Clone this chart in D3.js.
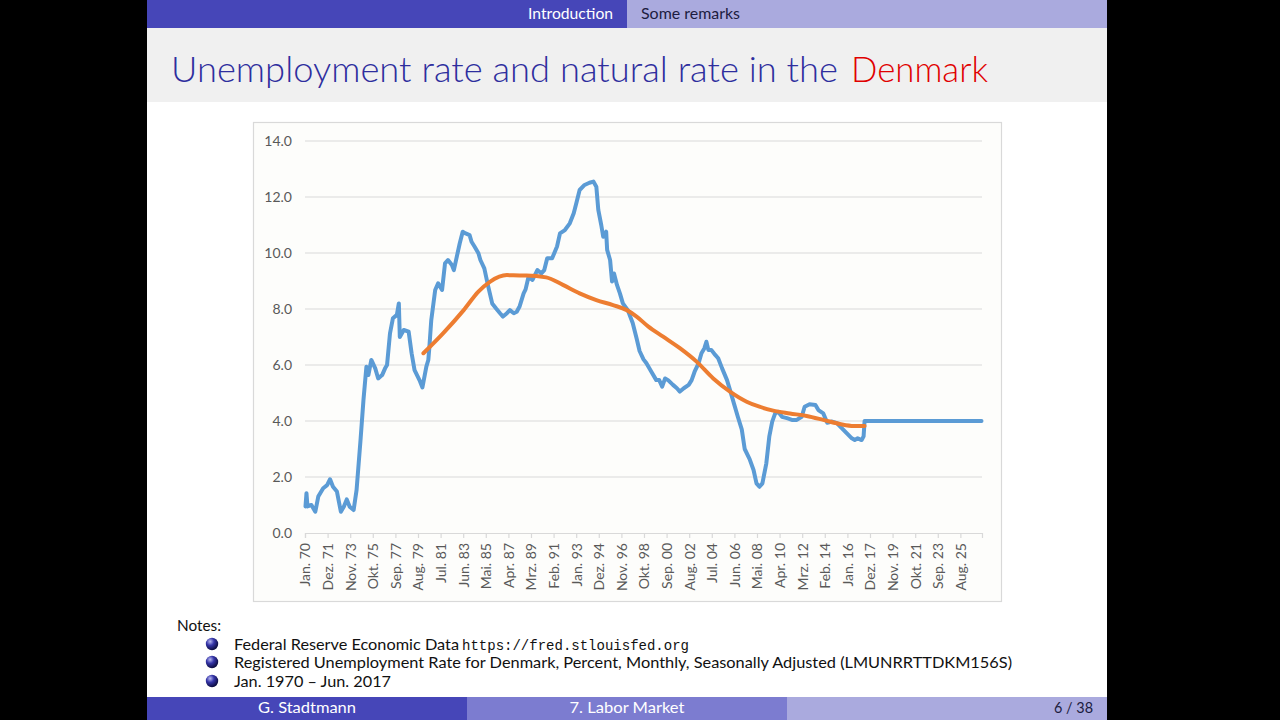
<!DOCTYPE html>
<html lang="en">
<head>
    <meta charset="UTF-8">
    <title>Unemployment rate and natural rate in the Denmark</title>
    <script src="https://cdn.jsdelivr.net/npm/d3@7"></script>
    <style>
        body { margin: 0; background: #000; }
        svg { display: block; }
    </style>
</head>
<body>
    <div id="slide"></div>
    <script>
        // Registered unemployment rate, Denmark, then flat 4.0 to the end of the sheet
        const unemploymentDates = [
            "1970-01","1970-02","1970-03","1970-07","1970-11","1971-02","1971-07","1971-11","1972-02","1972-05",
            "1972-09","1973-01","1973-04","1973-07","1973-10","1974-02","1974-05","1974-09","1974-12","1975-03",
            "1975-05","1975-08","1975-12","1976-03","1976-07","1976-10","1976-12","1977-03","1977-06","1977-10",
            "1977-12","1978-01","1978-05","1978-10","1979-01","1979-04","1979-09","1979-12","1980-04","1980-06",
            "1980-07","1980-09","1981-01","1981-04","1981-08","1981-11","1982-02","1982-06","1982-08","1982-11",
            "1983-02","1983-05","1983-08","1983-12","1984-02","1984-05","1984-09","1984-11","1985-03","1985-07",
            "1985-11","1986-03","1986-07","1986-10","1987-02","1987-05","1987-09","1987-12","1988-03","1988-07",
            "1988-09","1988-12","1989-04","1989-09","1990-01","1990-04","1990-07","1990-12","1991-05","1991-08",
            "1992-01","1992-06","1992-10","1993-01","1993-04","1993-09","1994-02","1994-06","1994-09","1994-11",
            "1995-02","1995-04","1995-07","1995-08","1995-11","1996-01","1996-03","1996-06","1996-09","1996-12",
            "1997-05","1997-10","1998-02","1998-05","1998-09","1998-12","1999-05","1999-10","2000-01","2000-04",
            "2000-07","2000-10","2001-03","2001-07","2001-10","2002-02","2002-07","2002-10","2003-01","2003-05",
            "2003-08","2003-11","2004-01","2004-03","2004-06","2004-10","2005-01","2005-05","2005-10","2006-01",
            "2006-05","2006-09","2007-01","2007-04","2007-09","2008-01","2008-04","2008-07","2008-10","2009-02",
            "2009-05","2009-08","2009-11","2010-02","2010-06","2010-11","2011-04","2011-09","2012-02","2012-05",
            "2012-10","2013-04","2013-07","2013-12","2014-04","2014-09","2015-02","2015-07","2015-12","2016-05",
            "2016-08","2016-11","2017-03","2017-05","2017-06","2027-05"
        ];
        const unemploymentValues = [
            0.95, 1.42, 0.95, 1.00, 0.76, 1.30, 1.60, 1.71, 1.92, 1.65,
            1.48, 0.76, 0.94, 1.20, 0.94, 0.82, 1.54, 3.32, 4.75, 5.94,
            5.64, 6.18, 5.88, 5.52, 5.64, 5.88, 6.00, 7.13, 7.67, 7.79,
            8.20, 7.00, 7.25, 7.19, 6.42, 5.82, 5.46, 5.20, 5.94, 6.18,
            6.60, 7.60, 8.68, 8.92, 8.68, 9.63, 9.75, 9.57, 9.39, 9.87,
            10.35, 10.76, 10.70, 10.64, 10.40, 10.23, 9.99, 9.75, 9.45, 8.80,
            8.20, 8.02, 7.85, 7.73, 7.85, 7.96, 7.85, 7.90, 8.10, 8.56,
            8.70, 9.15, 9.04, 9.39, 9.27, 9.39, 9.81, 9.81, 10.23, 10.70,
            10.82, 11.06, 11.42, 11.83, 12.25, 12.43, 12.51, 12.55, 12.37, 11.54,
            11.00, 10.58, 10.76, 10.11, 9.75, 8.98, 9.27, 8.86, 8.56, 8.20,
            7.96, 7.50, 6.95, 6.50, 6.20, 6.06, 5.76, 5.46, 5.46, 5.23,
            5.52, 5.46, 5.29, 5.17, 5.05, 5.17, 5.29, 5.46, 5.76, 6.06,
            6.42, 6.60, 6.83, 6.54, 6.54, 6.36, 6.24, 5.88, 5.46, 5.11,
            4.63, 4.15, 3.70, 3.00, 2.64, 2.25, 1.77, 1.65, 1.77, 2.49,
            3.44, 3.98, 4.27, 4.33, 4.15, 4.10, 4.04, 4.04, 4.15, 4.51,
            4.60, 4.57, 4.39, 4.27, 3.94, 3.98, 3.92, 3.74, 3.56, 3.38,
            3.32, 3.38, 3.32, 3.45, 4.00, 4.00
        ];

        // Natural rate (smooth trend)
        const trendDates = [
            "1980-01","1981-09","1983-06","1984-09","1985-09","1987-02","1988-03","1988-10","1990-06","1991-11",
            "1993-04","1994-09","1996-02","1997-04","1998-02","1999-02","2000-05","2001-10","2003-03","2004-08",
            "2006-01","2007-06","2008-07","2009-09","2011-02","2012-07","2013-12","2015-05","2016-07","2017-06"
        ];
        const trendValues = [
            6.42, 7.13, 7.96, 8.62, 8.98, 9.21, 9.20, 9.20, 9.13, 8.86,
            8.56, 8.32, 8.14, 7.96, 7.73, 7.37, 7.01, 6.60, 6.12, 5.52,
            5.05, 4.69, 4.51, 4.37, 4.27, 4.18, 4.04, 3.89, 3.82, 3.82
        ];

        const xTickLabels = [
            "Jan. 70","Dez. 71","Nov. 73","Okt. 75","Sep. 77","Aug. 79","Jul. 81","Jun. 83","Mai. 85","Apr. 87",
            "Mrz. 89","Feb. 91","Jan. 93","Dez. 94","Nov. 96","Okt. 98","Sep. 00","Aug. 02","Jul. 04","Jun. 06",
            "Mai. 08","Apr. 10","Mrz. 12","Feb. 14","Jan. 16","Dez. 17","Nov. 19","Okt. 21","Sep. 23","Aug. 25"
        ];
        const yTicks = [0, 2, 4, 6, 8, 10, 12, 14];
        const labelEvery = 23;      // months between category labels
        const monthCount = 689;     // Jan 1970 .. May 2027 rows in the sheet

        const notes = [
            ["Federal Reserve Economic Data ", "https://fred.stlouisfed.org"],
            ["Registered Unemployment Rate for Denmark, Percent, Monthly, Seasonally Adjusted (LMUNRRTTDKM156S)", ""],
            ["Jan. 1970 \u2013 Jun. 2017", ""]
        ];

        const beamerFont = "Lato, 'Open Sans', sans-serif";
        const excelFont = "Lato, 'Open Sans', sans-serif";

        const svg = d3.select("#slide").append("svg")
            .attr("width", 1280).attr("height", 720);

        // slide background
        svg.append("rect").attr("x", 0).attr("y", 0).attr("width", 1280).attr("height", 720).attr("fill", "#000");
        svg.append("rect").attr("x", 147).attr("y", 0).attr("width", 960).attr("height", 720).attr("fill", "#ffffff");

        // header bar
        svg.append("rect").attr("x", 147).attr("y", 0).attr("width", 480).attr("height", 28).attr("fill", "#4646b8");
        svg.append("rect").attr("x", 627).attr("y", 0).attr("width", 480).attr("height", 28).attr("fill", "#aaaade");
        svg.append("text").attr("x", 613).attr("y", 19).attr("text-anchor", "end")
            .attr("font-family", beamerFont).attr("font-size", 15).attr("fill", "#fff")
            .attr("textLength", 85).attr("lengthAdjust", "spacingAndGlyphs").text("Introduction");
        svg.append("text").attr("x", 641).attr("y", 19)
            .attr("font-family", beamerFont).attr("font-size", 15).attr("fill", "#1c1c40")
            .attr("textLength", 99).attr("lengthAdjust", "spacingAndGlyphs").text("Some remarks");

        // title band
        svg.append("rect").attr("x", 147).attr("y", 28).attr("width", 960).attr("height", 74).attr("fill", "#f0f0f0");
        svg.append("text").attr("x", 171).attr("y", 82)
            .attr("font-family", beamerFont).attr("font-size", 36).attr("font-weight", 300).attr("fill", "#2e2e9e")
            .attr("textLength", 667).attr("lengthAdjust", "spacingAndGlyphs")
            .text("Unemployment rate and natural rate in the");
        svg.append("text").attr("x", 851).attr("y", 82)
            .attr("font-family", beamerFont).attr("font-size", 36).attr("font-weight", 300).attr("fill", "#e00000")
            .attr("textLength", 137).attr("lengthAdjust", "spacingAndGlyphs")
            .text("Denmark");

        // chart frame
        svg.append("rect").attr("x", 253.5).attr("y", 122.5).attr("width", 748).attr("height", 479)
            .attr("fill", "#fdfdfb").attr("stroke", "#d9d9d9").attr("stroke-width", 1.2);

        const x = d3.scaleLinear().domain([0, monthCount]).range([305, 982]);
        const y = d3.scaleLinear().domain([0, 14]).range([533, 141]);
        const monthIndex = s => (+s.slice(0, 4) - 1970) * 12 + (+s.slice(5, 7) - 1);

        const chart = svg.append("g");

        // gridlines + y labels
        chart.selectAll("line.grid").data(yTicks.filter(t => t > 0)).enter().append("line")
            .attr("class", "grid")
            .attr("x1", x(0)).attr("x2", x(monthCount))
            .attr("y1", d => y(d)).attr("y2", d => y(d))
            .attr("stroke", "#d9d9d9").attr("stroke-width", 1.2);

        chart.selectAll("text.ylab").data(yTicks).enter().append("text")
            .attr("class", "ylab")
            .attr("x", 292).attr("y", d => y(d) + 5)
            .attr("text-anchor", "end")
            .attr("font-family", excelFont).attr("font-size", 14).attr("fill", "#595959")
            .text(d => d.toFixed(1));

        // x axis
        const xAxis = d3.axisBottom(x)
            .tickValues(xTickLabels.map((d, i) => i * labelEvery))
            .tickSize(5)
            .tickFormat("");
        const gx = chart.append("g").attr("transform", `translate(0,${y(0)})`).call(xAxis);
        gx.select(".domain").attr("stroke", "#d9d9d9").attr("stroke-width", 1.2);
        gx.selectAll(".tick line").attr("stroke", "#d9d9d9").attr("stroke-width", 1.2);

        chart.selectAll("text.xlab").data(xTickLabels).enter().append("text")
            .attr("class", "xlab")
            .attr("transform", (d, i) => `translate(${x(i * labelEvery + 0.5) + 5},${y(0) + 10}) rotate(-90)`)
            .attr("text-anchor", "end")
            .attr("font-family", excelFont).attr("font-size", 14).attr("fill", "#595959")
            .text(d => d);

        // series
        const unemployment = unemploymentDates.map((d, i) => ({ m: monthIndex(d), v: unemploymentValues[i] }));
        const trend = trendDates.map((d, i) => ({ m: monthIndex(d), v: trendValues[i] }));

        const line = d3.line().x(d => x(d.m + 0.5)).y(d => y(d.v));

        chart.append("path").datum(unemployment)
            .attr("d", line)
            .attr("fill", "none").attr("stroke", "#5b9bd5").attr("stroke-width", 4)
            .attr("stroke-linejoin", "round").attr("stroke-linecap", "round");

        chart.append("path").datum(trend)
            .attr("d", line.curve(d3.curveMonotoneX))
            .attr("fill", "none").attr("stroke", "#ed7d31").attr("stroke-width", 4)
            .attr("stroke-linecap", "round");

        // notes
        svg.append("text").attr("x", 177).attr("y", 631)
            .attr("font-family", beamerFont).attr("font-size", 15).attr("fill", "#111")
            .attr("textLength", 44).attr("lengthAdjust", "spacingAndGlyphs").text("Notes:");

        const defs = svg.append("defs");
        const grad = defs.append("radialGradient").attr("id", "ball")
            .attr("cx", "35%").attr("cy", "30%").attr("r", "70%");
        grad.append("stop").attr("offset", "0%").attr("stop-color", "#b8b8f0");
        grad.append("stop").attr("offset", "45%").attr("stop-color", "#3535a8");
        grad.append("stop").attr("offset", "100%").attr("stop-color", "#0c0c40");

        const noteY = [650, 668, 687];
        const noteWidths = [[225, 227], [778, 0], [157, 0]];
        notes.forEach((n, i) => {
            svg.append("circle").attr("cx", 212).attr("cy", noteY[i] - 6).attr("r", 6.2).attr("fill", "url(#ball)");
            svg.append("text").attr("x", 234).attr("y", noteY[i])
                .attr("font-family", beamerFont).attr("font-size", 15).attr("fill", "#111")
                .attr("textLength", noteWidths[i][0]).attr("lengthAdjust", "spacingAndGlyphs")
                .text(n[0].trim());
            if (n[1]) {
                svg.append("text").attr("x", 462).attr("y", noteY[i])
                    .attr("font-family", "'Liberation Mono', 'DejaVu Sans Mono', monospace")
                    .attr("font-size", 14).attr("fill", "#111")
                    .attr("textLength", noteWidths[i][1]).attr("lengthAdjust", "spacingAndGlyphs")
                    .text(n[1]);
            }
        });

        // footer
        const footer = [
            { x0: 147, w: 320, fill: "#4646b8", text: "G. Stadtmann", color: "#fff", tw: 98 },
            { x0: 467, w: 320, fill: "#7c7cd0", text: "7. Labor Market", color: "#fff", tw: 115 },
            { x0: 787, w: 320, fill: "#aaaade", text: "", color: "#1c1c40", tw: 0 }
        ];
        footer.forEach(f => {
            svg.append("rect").attr("x", f.x0).attr("y", 697).attr("width", f.w).attr("height", 23).attr("fill", f.fill);
            if (f.text) {
                svg.append("text").attr("x", f.x0 + f.w / 2).attr("y", 713).attr("text-anchor", "middle")
                    .attr("font-family", beamerFont).attr("font-size", 15).attr("fill", f.color)
                    .attr("textLength", f.tw).attr("lengthAdjust", "spacingAndGlyphs").text(f.text);
            }
        });
        svg.append("text").attr("x", 1093).attr("y", 713).attr("text-anchor", "end")
            .attr("font-family", beamerFont).attr("font-size", 15).attr("fill", "#1c1c40")
            .attr("textLength", 39).attr("lengthAdjust", "spacingAndGlyphs").text("6 / 38");
    </script>
</body>
</html>
